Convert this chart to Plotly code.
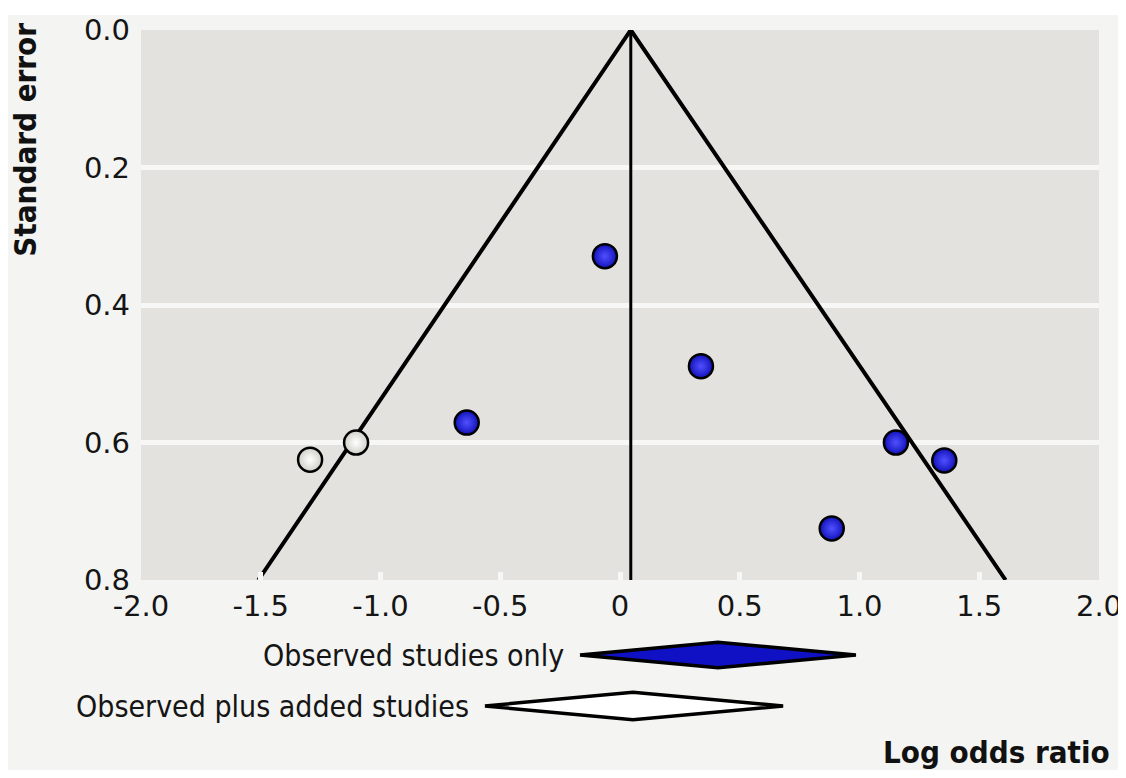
import plotly.graph_objects as go

# Observed studies (blue) and imputed/added studies (white)
observed_lor = [-0.063, 0.338, -0.640, 1.152, 1.354, 0.884]
observed_se = [0.329, 0.489, 0.571, 0.600, 0.626, 0.725]
added_lor = [-1.102, -1.294]
added_se = [0.600, 0.625]

# Funnel (pseudo 95% limits) and pooled estimate line
funnel_lor = [-1.51, 0.045, 1.61]
funnel_se = [0.8, 0.0, 0.8]
pooled_line_lor = [0.045, 0.045]
pooled_line_se = [0.0, 0.8]

# Summary diamonds: left CI, estimate, right CI
diamond_labels = ["Observed studies only", "Observed plus added studies"]
diamond_low = [-0.167, -0.564]
diamond_est = [0.409, 0.054]
diamond_high = [0.985, 0.681]
diamond_row = [1, 2]
diamond_half = [0.25, 0.27]
diamond_fill = ["#1010c4", "#ffffff"]

x_ticks = [-2.0, -1.5, -1.0, -0.5, 0.0, 0.5, 1.0, 1.5, 2.0]
x_ticktext = ["-2.0", "-1.5", "-1.0", "-0.5", "0", "0.5", "1.0", "1.5", "2.0"]
y_ticks = [0.0, 0.2, 0.4, 0.6, 0.8]
y_ticktext = ["0.0", "0.2", "0.4", "0.6", "0.8"]

PAPER = "#f4f4f2"
TICKFONT = dict(family="DejaVu Sans", size=29, color="#151515")
LABELFONT = dict(family="DejaVu Sans Condensed, DejaVu Sans", size=30, color="#151515")
TITLEFONT = dict(family="DejaVu Sans Condensed, DejaVu Sans", size=31, weight="bold",
                 color="#111111")

fig = go.Figure()

fig.add_trace(go.Scatter(x=funnel_lor, y=funnel_se, mode="lines",
                         line=dict(color="black", width=4), hoverinfo="skip",
                         showlegend=False))
fig.add_trace(go.Scatter(x=pooled_line_lor, y=pooled_line_se, mode="lines",
                         line=dict(color="black", width=3), hoverinfo="skip",
                         showlegend=False))
fig.add_trace(go.Scatter(x=observed_lor, y=observed_se, mode="markers",
                         marker=dict(size=24, color="#1212bc",
                                     gradient=dict(type="radial", color="#5050ff"),
                                     line=dict(color="black", width=2.5)),
                         showlegend=False))
fig.add_trace(go.Scatter(x=added_lor, y=added_se, mode="markers",
                         marker=dict(size=24, color="#d0d0c8",
                                     gradient=dict(type="radial", color="#ffffff"),
                                     line=dict(color="black", width=2.5)),
                         showlegend=False))

for lo, est, hi, row, h, fc in zip(diamond_low, diamond_est, diamond_high,
                                   diamond_row, diamond_half, diamond_fill):
    fig.add_trace(go.Scatter(x=[lo, est, hi, est, lo], y=[row, row - h, row, row + h, row],
                             mode="lines", fill="toself", fillcolor=fc,
                             line=dict(color="black", width=3.5),
                             xaxis="x", yaxis="y2", showlegend=False, hoverinfo="skip"))

annotations = []
for lab, lo, row in zip(diamond_labels, diamond_low, diamond_row):
    annotations.append(dict(text=lab, x=lo, y=row, xref="x", yref="y2",
                            xanchor="right", yanchor="middle", xshift=-14,
                            showarrow=False, font=LABELFONT))
annotations.append(dict(text="Standard error", x=-0.121, y=0.843, xref="paper", yref="paper",
                        textangle=-90, xanchor="center", yanchor="middle", showarrow=False,
                        font=TITLEFONT))
annotations.append(dict(text="Log odds ratio", x=1.0136, y=-0.034, xref="paper", yref="paper",
                        xanchor="right", yanchor="middle", showarrow=False,
                        font=TITLEFONT))

fig.update_layout(
    width=1110, height=762,
    margin=dict(l=133, r=19, t=22, b=42, autoexpand=False),
    paper_bgcolor=PAPER,
    plot_bgcolor="#e3e2de",
    xaxis=dict(range=[-2.0, 2.0], tickvals=x_ticks, ticktext=x_ticktext,
               showgrid=False, zeroline=False, showline=False, automargin=False,
               ticks="inside", ticklen=8, tickwidth=5, tickcolor="#f7f7f5",
               tickfont=TICKFONT, anchor="y", ticklabelstandoff=6,
               ticklabeloverflow="allow"),
    yaxis=dict(range=[0.8, 0.0], tickvals=y_ticks, ticktext=y_ticktext,
               domain=[0.2120, 1.0], automargin=False,
               showgrid=True, gridcolor="#f7f7f5", gridwidth=5,
               zeroline=False, showline=False, ticks="",
               tickfont=TICKFONT, ticklabelstandoff=10),
    yaxis2=dict(domain=[0.0, 0.1404], range=[2.431, 0.51], anchor="x",
                visible=False, showgrid=False, zeroline=False, automargin=False),
    annotations=annotations,
    shapes=[
        dict(type="rect", xref="paper", yref="paper", x0=-0.2, x1=1.1,
             y0=1.0215, y1=1.1, fillcolor="#ffffff", line=dict(width=0), layer="below"),
        dict(type="rect", xref="paper", yref="paper", x0=-0.2, x1=1.1,
             y0=-0.1, y1=0.1414, fillcolor=PAPER, line=dict(width=0), layer="below"),
    ],
)

fig.write_html("out.html")
